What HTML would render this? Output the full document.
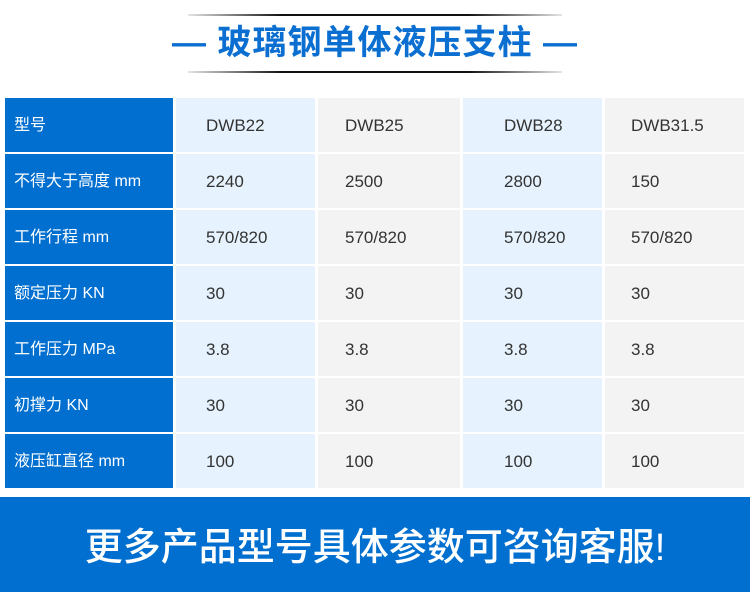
<!DOCTYPE html>
<html><head><meta charset="utf-8"><style>
body{margin:0;width:750px;height:601px;background:#fff;position:relative;overflow:hidden;font-family:"Liberation Sans","Noto Sans CJK SC",sans-serif}
.ln{position:absolute;left:188px;width:374px;height:2px;background:linear-gradient(90deg,rgba(0,0,0,0.1),#111 25%,#111 75%,rgba(0,0,0,0.1))}
.title{position:absolute;top:21px;left:0;width:750px;text-align:center;font-size:34px;font-weight:bold;color:#0a6fd0;line-height:44px;letter-spacing:1px}
.c{position:absolute;height:54px;line-height:56px;font-size:17px;color:#333}
.h{background:#006fcf;color:#fff;font-size:16px;padding-left:9px;box-sizing:border-box}
.b{background:#e6f2fd}.g{background:#f3f3f3}
.ban{position:absolute;left:0;top:497px;width:750px;height:95px;background:#006fcf;color:#fff;font-size:38px;text-align:center;line-height:102px;font-weight:500}
</style></head><body>
<div class="ln" style="top:14px"></div>
<div class="ln" style="top:71px"></div>
<div class="title">— 玻璃钢单体液压支柱 —</div>
<div id="t"></div>
<div class="ban">更多产品型号具体参数可咨询客服!</div>
<script>
var rows=[["型号","DWB22","DWB25","DWB28","DWB31.5"],["不得大于高度 mm","2240","2500","2800","150"],["工作行程 mm","570/820","570/820","570/820","570/820"],["额定压力 KN","30","30","30","30"],["工作压力 MPa","3.8","3.8","3.8","3.8"],["初撑力 KN","30","30","30","30"],["液压缸直径 mm","100","100","100","100"]];
var cx=[[5,168],[176,139],[318,142],[463,139],[605,139]],tx=[0,30,27,41,26],h="";
rows.forEach(function(r,i){var y=98+i*56;r.forEach(function(v,j){var cl=j==0?"h":(j%2?"b":"g");h+='<div class="c '+cl+'" style="left:'+cx[j][0]+'px;top:'+y+'px;width:'+cx[j][1]+'px;'+(j?'padding-left:'+tx[j]+'px;box-sizing:border-box':'')+'">'+v+'</div>';});});
document.getElementById("t").innerHTML=h;
</script>
</body></html>
